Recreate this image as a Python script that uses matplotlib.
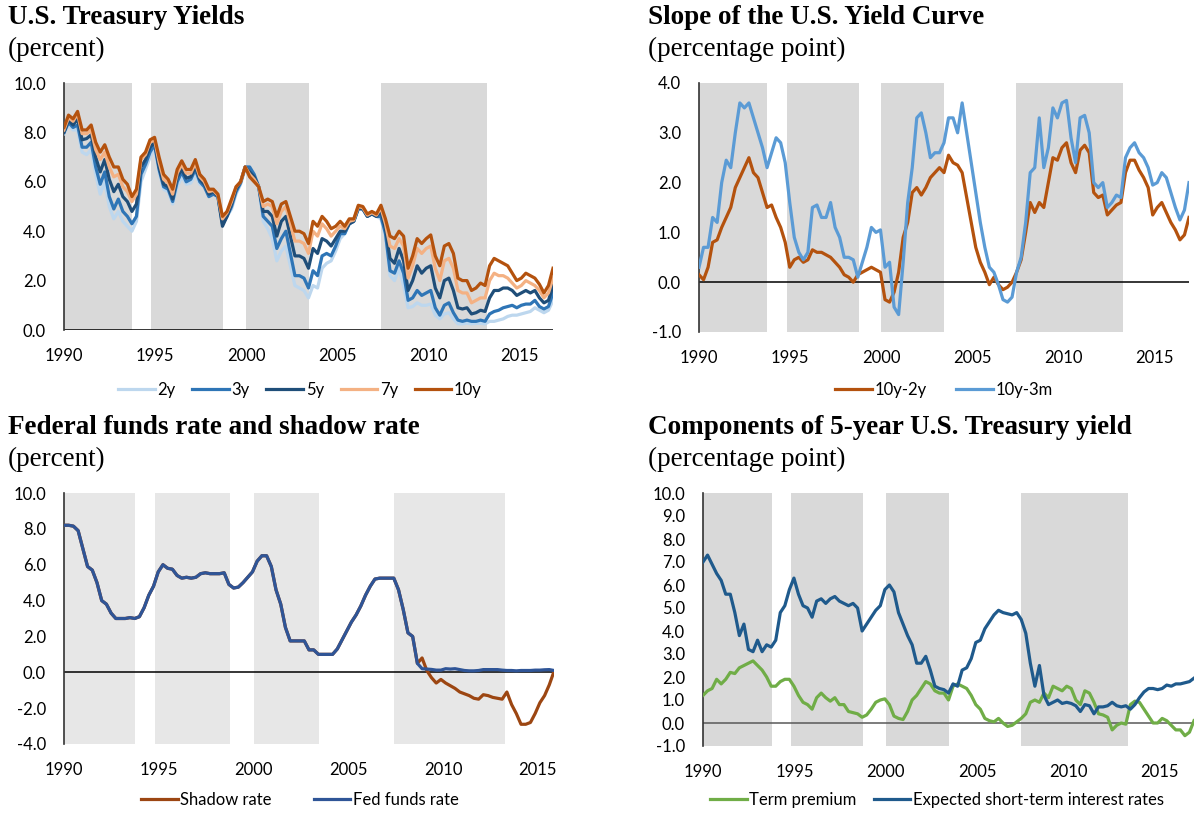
import matplotlib
matplotlib.use('Agg')
import matplotlib.pyplot as plt
import numpy as np

plt.rcParams['font.family'] = ['Lato', 'DejaVu Sans']
plt.rcParams['axes.unicode_minus'] = False

# ---- U.S. Treasury yields (quarterly readings, last value = end of sample) ----
y2 = [7.95, 8.3, 8.1, 8.1, 7.2, 7.1, 7.3, 6.3, 5.5, 6.0, 5.0, 4.5, 4.8, 4.4, 4.2, 4.0,
      4.4, 6.0, 6.5, 7.0, 7.4, 6.4, 5.7, 5.6, 5.1, 5.8, 6.2, 5.9, 5.95, 6.3, 5.9, 5.8,
      5.4, 5.5, 5.4, 4.3, 4.6, 4.9, 5.5, 5.9, 6.5, 6.6, 6.3, 5.8, 4.4, 4.1, 3.7, 2.8,
      3.2, 3.4, 2.6, 1.8, 1.7, 1.6, 1.3, 1.8, 1.7, 2.5, 2.7, 2.8, 3.2, 3.7, 3.9, 4.3,
      4.4, 4.9, 4.9, 4.6, 4.7, 4.6, 4.5, 3.8, 2.2, 2.0, 2.5, 1.8, 0.9, 0.95, 1.1, 1.0,
      1.0, 1.05, 0.6, 0.45, 0.65, 0.7, 0.45, 0.25, 0.25, 0.28, 0.25, 0.27, 0.27, 0.25, 0.35, 0.35,
      0.4, 0.45, 0.55, 0.6, 0.6, 0.65, 0.7, 0.75, 0.9, 0.8, 0.7, 0.8, 1.2]
y3 = [8.0, 8.4, 8.2, 8.3, 7.4, 7.4, 7.6, 6.6, 5.9, 6.4, 5.4, 4.9, 5.3, 4.8, 4.6, 4.3,
      4.6, 6.3, 6.7, 7.2, 7.5, 6.5, 5.8, 5.7, 5.2, 6.0, 6.4, 6.0, 6.1, 6.5, 6.0, 5.8,
      5.4, 5.5, 5.4, 4.3, 4.6, 5.0, 5.6, 5.95, 6.6, 6.6, 6.3, 5.8, 4.6, 4.4, 4.2, 3.3,
      3.7, 4.0, 3.1, 2.2, 2.2, 2.1, 1.7, 2.4, 2.2, 3.0, 3.1, 3.0, 3.4, 3.9, 3.9, 4.3,
      4.4, 4.9, 4.9, 4.6, 4.7, 4.6, 4.6, 3.9, 2.4, 2.3, 2.8, 2.3, 1.2, 1.3, 1.6, 1.4,
      1.5, 1.6, 0.9, 0.6, 1.0, 1.1, 0.7, 0.4, 0.35, 0.4, 0.35, 0.35, 0.4, 0.35, 0.65, 0.75,
      0.8, 0.9, 0.95, 1.0, 0.9, 1.0, 1.05, 1.05, 1.2, 0.95, 0.85, 0.95, 1.5]
y5 = [8.0, 8.5, 8.3, 8.55, 7.7, 7.75, 7.9, 7.0, 6.4, 6.9, 6.1, 5.6, 5.9, 5.4, 5.2, 4.8,
      5.1, 6.6, 6.9, 7.4, 7.6, 6.6, 5.9, 5.8, 5.3, 6.2, 6.5, 6.15, 6.2, 6.6, 6.1, 5.9,
      5.5, 5.6, 5.4, 4.2, 4.6, 5.1, 5.7, 6.0, 6.6, 6.4, 6.2, 5.8, 4.8, 4.8, 4.6, 3.8,
      4.4, 4.6, 3.8, 3.0, 3.0, 2.9, 2.5, 3.3, 3.1, 3.7, 3.6, 3.4, 3.7, 4.0, 4.0, 4.3,
      4.4, 4.95, 4.9, 4.6, 4.7, 4.6, 4.8, 4.1, 2.9, 2.7, 3.3, 2.8, 1.6, 2.0, 2.6, 2.3,
      2.5, 2.6, 1.7, 1.3, 2.0, 2.1, 1.6, 0.9, 0.85, 0.9, 0.65, 0.7, 0.8, 0.75, 1.3, 1.6,
      1.6, 1.7, 1.7, 1.6, 1.4, 1.5, 1.6, 1.5, 1.6, 1.3, 1.1, 1.2, 1.8]
y7 = [8.1, 8.6, 8.45, 8.75, 7.95, 7.95, 8.1, 7.3, 6.9, 7.2, 6.6, 6.2, 6.3, 5.8, 5.6, 5.2,
      5.5, 6.9, 7.1, 7.6, 7.7, 6.8, 6.1, 5.95, 5.5, 6.35, 6.7, 6.35, 6.35, 6.75, 6.2, 6.0,
      5.6, 5.65, 5.45, 4.5, 4.75, 5.2, 5.8, 6.0, 6.6, 6.3, 6.1, 5.8, 5.0, 5.1, 5.0, 4.3,
      4.8, 5.0, 4.3, 3.6, 3.6, 3.5, 3.1, 4.0, 3.8, 4.3, 4.1, 3.8, 4.0, 4.2, 4.1, 4.4,
      4.45, 5.0, 4.95, 4.65, 4.75, 4.65, 4.95, 4.3, 3.4, 3.3, 3.7, 3.4, 2.1, 2.6, 3.3, 3.1,
      3.3, 3.4, 2.5, 2.0, 2.8, 2.9, 2.5, 1.6, 1.5, 1.5, 1.1, 1.2, 1.3, 1.3, 2.0, 2.3,
      2.2, 2.2, 2.1, 1.9, 1.7, 1.8, 2.0, 1.9, 1.8, 1.6, 1.3, 1.5, 2.1]
y10 = [8.2, 8.7, 8.55, 8.85, 8.1, 8.1, 8.3, 7.6, 7.2, 7.5, 7.0, 6.6, 6.6, 6.1, 5.9, 5.4,
       5.7, 7.0, 7.2, 7.7, 7.8, 7.0, 6.3, 6.1, 5.7, 6.5, 6.85, 6.5, 6.5, 6.9, 6.3, 6.1,
       5.7, 5.7, 5.5, 4.6, 4.8, 5.3, 5.8, 6.0, 6.6, 6.2, 6.0, 5.8, 5.2, 5.3, 5.2, 4.6,
       5.1, 5.2, 4.6, 4.0, 4.0, 3.9, 3.5, 4.4, 4.2, 4.6, 4.4, 4.1, 4.2, 4.4, 4.2, 4.5,
       4.5, 5.05, 5.0, 4.7, 4.8, 4.7, 5.05, 4.5, 3.8, 3.7, 4.0, 3.8, 2.5, 3.0, 3.7, 3.5,
       3.7, 3.85, 3.0, 2.6, 3.4, 3.5, 3.1, 2.1, 2.0, 2.0, 1.6, 1.7, 1.9, 1.8, 2.6, 2.9,
       2.8, 2.7, 2.6, 2.3, 2.0, 2.1, 2.3, 2.2, 2.1, 1.85, 1.5, 1.8, 2.5]

# ---- slope of the yield curve ----
s10y2y = [0.15, 0.05, 0.3, 0.8, 0.85, 1.1, 1.3, 1.5, 1.9, 2.1, 2.3, 2.5, 2.2, 2.1, 1.8, 1.5,
          1.55, 1.3, 1.1, 0.8, 0.3, 0.45, 0.5, 0.4, 0.45, 0.65, 0.6, 0.6, 0.55, 0.5, 0.4, 0.3,
          0.15, 0.1, 0.0, 0.15, 0.2, 0.25, 0.3, 0.25, 0.2, -0.35, -0.4, -0.2, 0.2, 0.9, 1.2, 1.8,
          1.9, 1.75, 1.9, 2.1, 2.2, 2.3, 2.2, 2.55, 2.4, 2.35, 2.2, 1.7, 1.2, 0.7, 0.4, 0.2,
          -0.05, 0.1, -0.05, -0.15, -0.1, 0.0, 0.2, 0.45, 1.0, 1.6, 1.4, 1.6, 1.5, 2.0, 2.5, 2.45,
          2.7, 2.8, 2.4, 2.2, 2.65, 2.75, 2.6, 1.8, 1.7, 1.75, 1.35, 1.45, 1.55, 1.6, 2.2, 2.45,
          2.45, 2.25, 2.1, 1.9, 1.35, 1.5, 1.6, 1.4, 1.2, 1.05, 0.85, 0.95, 1.3]
s10y3m = [0.3, 0.7, 0.7, 1.3, 1.2, 2.0, 2.45, 2.3, 3.0, 3.6, 3.5, 3.6, 3.3, 3.0, 2.7, 2.3,
          2.6, 2.9, 2.8, 2.4, 1.6, 0.9, 0.6, 0.45, 0.6, 1.5, 1.55, 1.3, 1.3, 1.6, 1.1, 0.9,
          0.5, 0.5, 0.45, 0.1, 0.4, 0.7, 1.1, 1.0, 1.05, 0.3, 0.4, -0.5, -0.65, 0.4, 1.6, 2.3,
          3.3, 3.4, 3.0, 2.5, 2.6, 2.6, 2.8, 3.3, 3.3, 3.0, 3.6, 3.0, 2.4, 1.8, 1.2, 0.7,
          0.3, 0.2, -0.05, -0.35, -0.4, -0.3, 0.2, 0.5, 1.2, 2.2, 2.3, 3.3, 2.3, 2.7, 3.5, 3.3,
          3.6, 3.65, 2.9, 2.4, 3.3, 3.35, 3.0, 2.0, 1.9, 2.0, 1.5, 1.6, 1.75, 1.7, 2.5, 2.7,
          2.8, 2.6, 2.5, 2.3, 1.95, 2.0, 2.2, 2.1, 1.8, 1.5, 1.25, 1.45, 2.0]

# ---- federal funds rate and shadow rate ----
shadow = [8.2, 8.2, 8.15, 7.9, 6.9, 5.9, 5.7, 5.0, 4.0, 3.8, 3.3, 3.0, 3.0, 3.0, 3.05, 3.0,
          3.1, 3.6, 4.3, 4.8, 5.6, 6.0, 5.8, 5.75, 5.4, 5.25, 5.3, 5.25, 5.3, 5.5, 5.55, 5.5,
          5.5, 5.5, 5.55, 4.9, 4.7, 4.75, 5.0, 5.3, 5.6, 6.2, 6.5, 6.5, 5.9, 4.6, 3.8, 2.5,
          1.75, 1.75, 1.75, 1.75, 1.25, 1.25, 1.0, 1.0, 1.0, 1.0, 1.3, 1.8, 2.3, 2.8, 3.2, 3.7,
          4.3, 4.8, 5.2, 5.25, 5.25, 5.25, 5.25, 4.6, 3.5, 2.2, 2.0, 0.5, 0.8, 0.1, -0.3, -0.6,
          -0.4, -0.6, -0.75, -0.9, -1.1, -1.2, -1.3, -1.45, -1.5, -1.25, -1.3, -1.4, -1.45, -1.5, -1.1, -1.8,
          -2.3, -2.9, -2.9, -2.8, -2.3, -1.7, -1.3, -0.7, 0.05]
fedfunds = [8.2, 8.2, 8.15, 7.9, 6.9, 5.9, 5.7, 5.0, 4.0, 3.8, 3.3, 3.0, 3.0, 3.0, 3.05, 3.0,
            3.1, 3.6, 4.3, 4.8, 5.6, 6.0, 5.8, 5.75, 5.4, 5.25, 5.3, 5.25, 5.3, 5.5, 5.55, 5.5,
            5.5, 5.5, 5.55, 4.9, 4.7, 4.75, 5.0, 5.3, 5.6, 6.2, 6.5, 6.5, 5.9, 4.6, 3.8, 2.5,
            1.75, 1.75, 1.75, 1.75, 1.25, 1.25, 1.0, 1.0, 1.0, 1.0, 1.3, 1.8, 2.3, 2.8, 3.2, 3.7,
            4.3, 4.8, 5.2, 5.25, 5.25, 5.25, 5.25, 4.6, 3.5, 2.2, 2.0, 0.5, 0.2, 0.18, 0.16, 0.12,
            0.12, 0.2, 0.18, 0.2, 0.15, 0.1, 0.08, 0.08, 0.1, 0.15, 0.15, 0.15, 0.15, 0.12, 0.1, 0.1,
            0.08, 0.1, 0.1, 0.1, 0.12, 0.12, 0.14, 0.15, 0.1]

# ---- components of the 5-year yield ----
term_prem = [1.2, 1.4, 1.5, 1.9, 1.7, 1.9, 2.2, 2.15, 2.4, 2.5, 2.6, 2.7, 2.5, 2.3, 2.0, 1.6,
             1.6, 1.8, 1.9, 1.9, 1.6, 1.2, 0.9, 0.8, 0.6, 1.1, 1.3, 1.1, 0.95, 1.1, 0.8, 0.8,
             0.5, 0.45, 0.4, 0.25, 0.35, 0.6, 0.9, 1.0, 1.05, 0.8, 0.3, 0.2, 0.15, 0.5, 1.0, 1.2,
             1.5, 1.8, 1.7, 1.4, 1.3, 1.3, 1.0, 1.6, 1.7, 1.6, 1.5, 1.2, 0.8, 0.6, 0.2, 0.1,
             0.05, 0.2, 0.0, -0.15, -0.1, 0.05, 0.2, 0.4, 0.9, 1.0, 0.9, 1.3, 1.1, 1.6, 1.5, 1.4,
             1.6, 1.5, 1.0, 0.8, 1.4, 1.3, 0.9, 0.4, 0.35, 0.25, -0.3, -0.1, 0.0, -0.05, 0.8, 0.95,
             0.9, 0.6, 0.3, 0.0, 0.0, 0.2, 0.1, -0.1, -0.3, -0.3, -0.55, -0.4, 0.1]
expected = [7.0, 7.3, 6.9, 6.5, 6.2, 5.6, 5.6, 4.8, 3.8, 4.3, 3.2, 3.1, 3.6, 3.1, 3.4, 3.3,
            3.6, 4.8, 5.1, 5.8, 6.3, 5.6, 5.1, 5.0, 4.6, 5.3, 5.4, 5.2, 5.4, 5.5, 5.3, 5.2,
            5.1, 5.2, 5.0, 4.0, 4.3, 4.6, 4.9, 5.1, 5.8, 6.0, 5.7, 4.8, 4.3, 3.8, 3.4, 2.6,
            2.6, 2.9, 2.3, 1.6, 1.5, 1.45, 1.3, 1.7, 1.6, 2.3, 2.4, 2.8, 3.5, 3.6, 4.1, 4.4,
            4.7, 4.9, 4.8, 4.75, 4.7, 4.8, 4.5, 3.9, 2.6, 1.6, 2.5, 1.2, 0.8, 0.9, 1.0, 0.85,
            0.9, 0.85, 0.75, 0.5, 0.8, 0.75, 0.4, 0.7, 0.7, 0.75, 0.9, 0.75, 0.7, 0.75, 0.6, 0.8,
            1.1, 1.35, 1.5, 1.5, 1.45, 1.5, 1.65, 1.6, 1.7, 1.7, 1.75, 1.8, 1.95]

# tightening / easing windows shaded in every panel
shade_spans = [(1990.0, 1993.75), (1994.8, 1998.75), (2000.0, 2003.45), (2007.4, 2013.25)]
year_ticks = [1990, 1995, 2000, 2005, 2010, 2015]

W, H = 1197, 814
fig = plt.figure(figsize=(W / 100, H / 100), dpi=100)


def px_axes(left, top, right, bottom):
    return fig.add_axes([left / W, 1 - bottom / H, (right - left) / W, (bottom - top) / H])


def setup(ax, end, ylim, yticks, shade_col, zero_col=None):
    for a, b in shade_spans:
        ax.axvspan(a, b, color=shade_col, lw=0, zorder=0)
    ax.set_xlim(1990, end)
    ax.set_ylim(*ylim)
    ax.set_xticks(year_ticks)
    ax.set_yticks(yticks)
    ax.set_yticklabels(['%.1f' % v for v in yticks])
    ax.tick_params(length=0, labelsize=12, colors='black')
    ax.tick_params(axis='y', pad=13)
    ax.tick_params(axis='x', pad=13)
    for s in ['top', 'right', 'bottom']:
        ax.spines[s].set_visible(False)
    ax.spines['left'].set_color('#333333')
    ax.spines['left'].set_linewidth(1.2)
    if zero_col:
        ax.axhline(0, color=zero_col, lw=1.1, zorder=1)


def titles(x, y, title, sub):
    fig.text(x / W, 1 - y / H, title, family='Liberation Serif', weight='bold', fontsize=19.5, va='center')
    fig.text(x / W, 1 - (y + 31) / H, sub, family='Liberation Serif', fontsize=19.5, va='center')


def xs(vals, end):
    return np.linspace(1990, end, len(vals))


def legend(ax, cx, cy, ncol, spacing):
    ax.legend(loc='center', bbox_to_anchor=(cx / W, 1 - cy / H), bbox_transform=fig.transFigure,
              ncol=ncol, frameon=False, fontsize=12, handlelength=2.2, handletextpad=0.15,
              columnspacing=spacing, borderaxespad=0)


# top-left: treasury yields
ax1 = px_axes(64, 83, 553, 330)
end1 = 2016.87
setup(ax1, end1, (0, 10), [0, 2, 4, 6, 8, 10], '#d9d9d9', zero_col='black')
for vals, col, lab in [(y2, '#bdd7ee', '2y'), (y3, '#2e75b6', '3y'), (y5, '#1f4e79', '5y'),
                       (y7, '#f4b183', '7y'), (y10, '#b4520e', '10y')]:
    ax1.plot(xs(vals, end1), vals, color=col, lw=2.3, label=lab, zorder=3)
legend(ax1, 300, 390, 5, 1.0)
titles(8, 18, 'U.S. Treasury Yields', '(percent)')

# top-right: slope of yield curve
ax2 = px_axes(699, 83, 1189, 332)
setup(ax2, end1, (-1, 4), [-1, 0, 1, 2, 3, 4], '#d9d9d9', zero_col='black')
ax2.plot(xs(s10y2y, end1), s10y2y, color='#b4520e', lw=2.3, label='10y-2y', zorder=3)
ax2.plot(xs(s10y3m, end1), s10y3m, color='#5b9bd5', lw=2.3, label='10y-3m', zorder=3)
legend(ax2, 944, 390, 2, 1.8)
titles(648, 18, 'Slope of the U.S. Yield Curve', '(percentage point)')

# bottom-left: fed funds and shadow rate
ax3 = px_axes(64, 493, 554, 744)
end3 = 2015.85
setup(ax3, end3, (-4, 10), [-4, -2, 0, 2, 4, 6, 8, 10], '#e7e7e7', zero_col='black')
ax3.plot(xs(shadow, end3), shadow, color='#9c4612', lw=2.3, label='Shadow rate', zorder=3)
ax3.plot(xs(fedfunds, end3), fedfunds, color='#2f5597', lw=2.3, label='Fed funds rate', zorder=4)
legend(ax3, 300, 800, 2, 2.5)
titles(8, 428, 'Federal funds rate and shadow rate', '(percent)')

# bottom-right: 5-year yield decomposition
ax4 = px_axes(703, 493, 1194, 746)
setup(ax4, end1, (-1, 10), list(range(-1, 11)), '#d9d9d9', zero_col='#595959')
ax4.plot(xs(term_prem, end1), term_prem, color='#70ad47', lw=2.3, label='Term premium', zorder=3)
ax4.plot(xs(expected, end1), expected, color='#1f5a8c', lw=2.3,
         label='Expected short-term interest rates', zorder=4)
legend(ax4, 937, 800, 2, 1.0)
titles(648, 428, 'Components of 5-year U.S. Treasury yield', '(percentage point)')

fig.savefig('out.png', dpi=100)
